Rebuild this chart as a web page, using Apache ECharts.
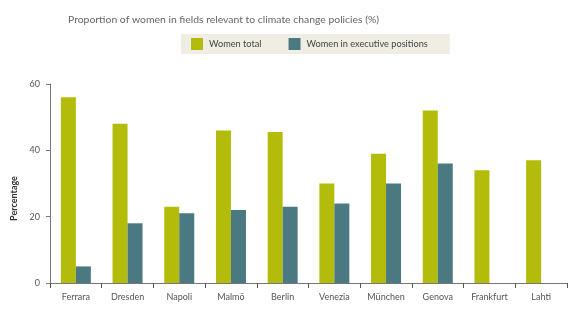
<!DOCTYPE html>
<html>
<head>
<meta charset="utf-8">
<script src="https://cdn.jsdelivr.net/npm/echarts@6/dist/echarts.min.js"></script>
<style>
  html, body { margin: 0; padding: 0; background: #fff; }
  #chart { width: 582px; height: 311px; }
</style>
</head>
<body>
<div id="chart"></div>
<script>
  const cities = ['Ferrara', 'Dresden', 'Napoli', 'Malmö', 'Berlin', 'Venezia', 'München', 'Genova', 'Frankfurt', 'Lahti'];
  const womenTotal = [56, 48, 23, 46, 45.5, 30, 39, 52, 34, 37];
  const womenExecutive = [5, 18, 21, 22, 23, 24, 30, 36, null, null];
  const yTicks = [0, 20, 40, 60];

  const font = 'Lato, "Open Sans", sans-serif';
  const chart = echarts.init(document.getElementById('chart'));
  chart.setOption({
    animation: false,
    title: {
      text: 'Proportion of women in fields relevant to climate change policies (%)',
      left: 63, top: 10,
      textStyle: { fontFamily: font, fontSize: 10.4, fontWeight: 'normal', color: '#666' }
    },
    legend: {
      left: 181, top: 34,
      padding: [4, 22, 4, 10],
      backgroundColor: '#efede4',
      itemWidth: 12, itemHeight: 12, itemGap: 27,
      icon: 'rect',
      textStyle: { fontFamily: font, fontSize: 9.2, color: '#444', padding: [0, 0, 0, 1] }
    },
    grid: { left: 50, right: 15, top: 84, bottom: 28 },
    xAxis: {
      type: 'category',
      data: cities,
      axisLine: { lineStyle: { color: '#777' } },
      axisTick: { show: true, length: 5, lineStyle: { color: '#555' } },
      axisLabel: { fontFamily: font, fontSize: 9, color: '#555', margin: 10 }
    },
    yAxis: {
      type: 'value',
      min: yTicks[0], max: yTicks[yTicks.length - 1], interval: 20,
      name: 'Percentage',
      nameLocation: 'middle',
      nameGap: 25,
      nameTextStyle: { fontFamily: font, fontSize: 9, fontWeight: 'bold', color: '#333', padding: [0, 30, 0, 0] },
      axisLine: { show: true, lineStyle: { color: '#777' } },
      axisTick: { show: true, length: 4, lineStyle: { color: '#777' } },
      splitLine: { show: false },
      axisLabel: { fontFamily: font, fontSize: 9, color: '#555', margin: 10 }
    },
    series: [
      { name: 'Women total', type: 'bar', data: womenTotal, barWidth: 15, barGap: '0%', itemStyle: { color: '#b3bc0a' } },
      { name: 'Women in executive positions', type: 'bar', data: womenExecutive, barWidth: 15, itemStyle: { color: '#4b7981' } }
    ]
  });
</script>
</body>
</html>
